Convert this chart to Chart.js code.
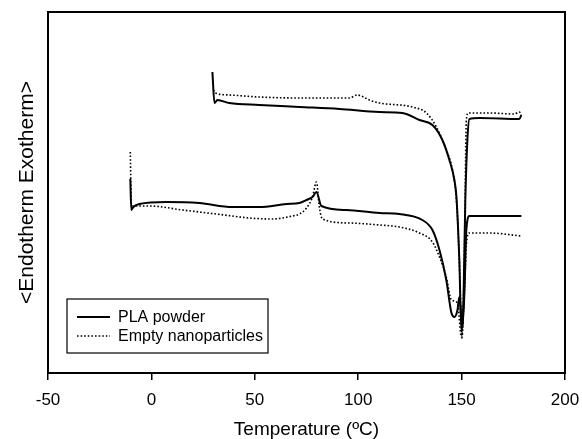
<!DOCTYPE html>
<html>
<head>
<meta charset="utf-8">
<script src="https://cdn.jsdelivr.net/npm/chart.js@4.4.1/dist/chart.umd.min.js"></script>
<style>
  html, body { margin: 0; padding: 0; background: #fff; }
  #wrap { width: 582px; height: 439px; }
</style>
</head>
<body>
<div id="wrap"><canvas id="dscChart" width="582" height="439"></canvas></div>
<script>
// DSC thermograms, heat flow in arbitrary units
const seriesNames = ['PLA powder', 'Empty nanoparticles'];
const xTicks = [-50, 0, 50, 100, 150, 200];

// first heating scan (lower pair)
const plaLowT = [-10.2, -9.7, -8.7, -5.8, 7.3, 23.2, 39.2, 52.2, 65.3, 71.6, 75.0, 77.9, 79.8, 82.2, 94.3, 110.3, 119.9, 131.0, 135.9, 139.3, 142.6, 145.1, 146.5, 148.0, 148.9, 150.4, 151.4, 152.3, 153.8, 158.6, 178.9];
const plaLowV = [19.4, 16.3, 16.6, 16.9, 17.1, 17.0, 16.6, 16.6, 16.9, 17.0, 17.3, 17.6, 18.1, 16.7, 16.3, 16.0, 15.9, 15.3, 14.3, 12.3, 9.3, 6.0, 5.6, 6.3, 7.6, 4.6, 8.3, 14.3, 15.7, 15.7, 15.7];

const npLowT = [-10.2, -9.7, -8.2, -1.0, 15.0, 31.4, 47.4, 58.5, 68.2, 71.6, 75.0, 77.9, 79.8, 81.2, 82.7, 95.7, 110.3, 119.9, 129.6, 135.9, 139.3, 142.6, 145.1, 148.0, 149.9, 151.4, 152.3, 153.8, 163.4, 178.9];
const npLowV = [22.1, 16.8, 16.7, 16.7, 16.3, 15.9, 15.5, 15.4, 15.7, 15.9, 16.5, 17.6, 19.1, 16.6, 15.4, 15.0, 14.8, 14.6, 14.0, 13.1, 11.6, 9.6, 7.3, 7.0, 3.6, 8.3, 12.8, 14.0, 14.0, 13.7];

// second heating scan (upper pair)
const plaHighT = [29.5, 30.5, 31.9, 37.7, 52.2, 71.6, 90.9, 110.3, 121.4, 129.6, 135.9, 140.7, 144.1, 146.5, 147.5, 148.9, 149.9, 150.9, 151.8, 152.8, 153.8, 158.6, 177.9, 178.9];
const plaHighV = [30.1, 27.0, 27.3, 27.0, 26.8, 26.6, 26.4, 26.1, 26.0, 25.3, 24.8, 23.3, 21.3, 19.3, 17.6, 11.3, 4.3, 7.3, 17.3, 23.3, 25.4, 25.5, 25.4, 25.8];

const npHighT = [30.0, 30.9, 37.7, 52.2, 71.6, 86.1, 95.7, 99.6, 101.5, 105.4, 110.3, 126.2, 133.0, 137.8, 142.6, 145.6, 147.5, 148.9, 150.2, 151.4, 152.3, 153.3, 163.4, 175.5, 177.9, 178.9];
const npHighV = [28.3, 28.0, 27.8, 27.6, 27.5, 27.5, 27.5, 27.8, 27.7, 27.3, 27.0, 26.6, 26.0, 24.6, 22.3, 20.3, 17.3, 11.3, 3.5, 12.3, 25.3, 26.0, 26.0, 25.9, 26.1, 25.8];

function pts(xs, ys) {
  return xs.map((x, i) => ({ x: x, y: ys[i] }));
}

const FONT = "'Liberation Sans', Arial, Helvetica, sans-serif";
const solidStyle = { borderColor: '#000', borderWidth: 2, borderDash: [] };
const dotStyle = { borderColor: '#000', borderWidth: 1.6, borderDash: [1.6, 2] };

function makeSet(label, data, style) {
  return Object.assign({
    label: label,
    data: data,
    pointRadius: 0,
    fill: false,
    cubicInterpolationMode: 'monotone'
  }, style);
}

// frame box + legend box in the lower left
const framePlugin = {
  id: 'frame',
  afterDraw(chart) {
    const { ctx, chartArea: a } = chart;
    ctx.save();
    ctx.strokeStyle = '#000';
    ctx.lineWidth = 2;
    ctx.strokeRect(a.left, a.top, a.right - a.left, a.bottom - a.top);

    const bx = 67, by = 299, bw = 201, bh = 54;
    ctx.lineWidth = 1.2;
    ctx.strokeRect(bx, by, bw, bh);
    ctx.font = '16px ' + FONT;
    ctx.fillStyle = '#000';
    ctx.textBaseline = 'middle';
    const rows = [[seriesNames[0], solidStyle, 317], [seriesNames[1], dotStyle, 336]];
    rows.forEach(([txt, st, y]) => {
      ctx.beginPath();
      ctx.lineWidth = st.borderWidth;
      ctx.setLineDash(st.borderDash);
      ctx.moveTo(77, y);
      ctx.lineTo(110, y);
      ctx.stroke();
      ctx.setLineDash([]);
      ctx.fillText(txt, 118, y + 1);
    });
    ctx.restore();
  }
};

const ctx = document.getElementById('dscChart').getContext('2d');
const dscChart = new Chart(ctx, {
  type: 'line',
  data: {
    datasets: [
      makeSet(seriesNames[0], pts(plaLowT, plaLowV), solidStyle),
      makeSet(seriesNames[1], pts(npLowT, npLowV), dotStyle),
      makeSet(seriesNames[0], pts(plaHighT, plaHighV), solidStyle),
      makeSet(seriesNames[1], pts(npHighT, npHighV), dotStyle)
    ]
  },
  options: {
    responsive: false,
    animation: false,
    layout: { padding: { top: 12, right: 17, left: 0, bottom: 0 } },
    plugins: {
      legend: { display: false },
      tooltip: { enabled: false }
    },
    scales: {
      x: {
        type: 'linear',
        min: -50,
        max: 200,
        afterBuildTicks: (s) => { s.ticks = xTicks.map(v => ({ value: v })); },
        afterFit: (s) => { s.height = 66; s.paddingLeft = 0; s.paddingRight = 0; },
        border: { display: false },
        grid: { drawOnChartArea: false, drawTicks: true, tickLength: 7, color: '#000', lineWidth: 1.5 },
        ticks: { color: '#000', padding: 10, font: { family: FONT, size: 17 } },
        title: {
          display: true,
          text: 'Temperature (ºC)',
          color: '#000',
          font: { family: FONT, size: 19, lineHeight: 1 },
          padding: { top: 0, bottom: 0 }
        }
      },
      y: {
        type: 'linear',
        min: 0,
        max: 36.1,
        afterFit: (s) => { s.width = 48; s.paddingTop = 0; s.paddingBottom = 0; },
        border: { display: false },
        grid: { display: false },
        ticks: { display: false },
        title: {
          display: true,
          text: '<Endotherm Exotherm>',
          color: '#000',
          font: { family: FONT, size: 21, lineHeight: 1.2 },
          padding: { top: 15, bottom: 0 }
        }
      }
    }
  },
  plugins: [framePlugin]
});
</script>
</body>
</html>
